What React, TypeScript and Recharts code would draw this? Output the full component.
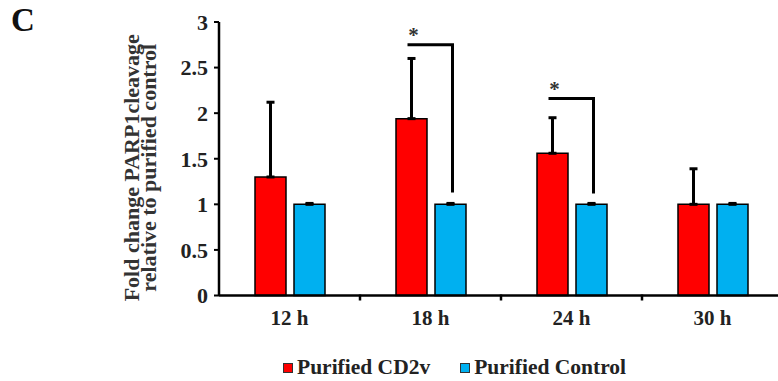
import React from "react";
import { BarChart, Bar, XAxis, YAxis, ErrorBar, Legend, Rectangle } from "recharts";

const timepoints = ["12 h", "18 h", "24 h", "30 h"];
const cd2v = [1.3, 1.94, 1.56, 1.0];
const cd2vSd = [0.82, 0.66, 0.39, 0.39];
const control = [1, 1, 1, 1];
const controlSd = [0.01, 0.01, 0.01, 0.01];
// significance brackets (* p<0.05): top of bracket and where it ends above the control bar
const sigTop = [null, 2.75, 2.16, null];
const sigEnd = [null, 1.13, 1.12, null];
const yTicks = [0, 0.5, 1, 1.5, 2, 2.5, 3];

const FONT = '"Liberation Serif", "Times New Roman", serif';
const BAR_GAP = 8;
const TICK_MARGIN = 10;

const data = timepoints.map((t, i) => ({
  time: t,
  cd2v: cd2v[i],
  cd2vErr: [0, cd2vSd[i]],
  control: control[i],
  controlErr: [0, controlSd[i]],
  sigTop: sigTop[i],
  sigEnd: sigEnd[i],
}));

// control bar + the bracket that links it to the CD2v bar of the same group
const ControlShape = (props: any) => {
  const { x, y, width, height, payload, fill } = props;
  const base = y + height;
  const perUnit = height / payload.control;
  const redMid = x - BAR_GAP - width / 2;
  const blueMid = x + width / 2 + 2;
  const topY = base - (payload.sigTop ?? 0) * perUnit;
  const endY = base - (payload.sigEnd ?? 0) * perUnit;
  return (
    <g>
      <Rectangle x={x} y={y} width={width} height={height} fill={fill} stroke="#000" strokeWidth={1.5} />
      {payload.sigTop != null && (
        <g>
          <polyline
            points={`${redMid - 4},${topY} ${blueMid},${topY} ${blueMid},${endY}`}
            fill="none"
            stroke="#000"
            strokeWidth={3}
          />
          <text
            x={redMid + 2}
            y={topY - 3}
            textAnchor="middle"
            fontFamily={FONT}
            fontWeight="bold"
            fontSize={21}
            fill="#333"
          >
            *
          </text>
        </g>
      )}
    </g>
  );
};

const TimeTick = (props: any) => {
  const { x, y, payload, index } = props;
  const half = payload.offset || 70.5;
  return (
    <g>
      {index > 0 && (
        <line
          x1={x - half}
          x2={x - half}
          y1={y - TICK_MARGIN - 6}
          y2={y - TICK_MARGIN}
          stroke="#000"
          strokeWidth={2.5}
        />
      )}
      <text
        x={x}
        y={y}
        dy="0.71em"
        textAnchor="middle"
        fontFamily={FONT}
        fontWeight="bold"
        fontSize={21}
        fill="#222"
      >
        {payload.value}
      </text>
    </g>
  );
};

const YLabel = (props: any) => {
  const vb = props.viewBox || { x: 0, y: 22, width: 219, height: 273 };
  const cy = vb.y + vb.height / 2 + 9;
  const lines = [
    { x: 139, text: "Fold change PARP1cleavage" },
    { x: 156, text: "relative to purified control" },
  ];
  return (
    <g>
      {lines.map((l) => (
        <text
          key={l.text}
          x={l.x}
          y={cy}
          transform={`rotate(-90, ${l.x}, ${cy})`}
          textAnchor="middle"
          fontFamily={FONT}
          fontWeight="bold"
          fontSize={22}
          fill="#333"
        >
          {l.text}
        </text>
      ))}
    </g>
  );
};

const LegendContent = (props: any) => (
  <div
    style={{
      display: "flex",
      alignItems: "center",
      fontFamily: FONT,
      fontWeight: "bold",
      fontSize: 21.5,
      color: "#222",
      whiteSpace: "nowrap",
    }}
  >
    {(props.payload || []).map((p: any, i: number) => (
      <span key={i} style={{ display: "flex", alignItems: "center", marginRight: 30 }}>
        <span
          style={{
            display: "inline-block",
            width: 8,
            height: 8,
            background: p.color,
            border: "1px solid #333",
            marginRight: 4,
          }}
        />
        {p.value}
      </span>
    ))}
  </div>
);

const App = () => {
  return (
    <div
      style={{
        position: "absolute",
        left: 0,
        top: 0,
        width: 778,
        height: 381,
        overflow: "hidden",
        background: "#fff",
      }}
    >
      <div
        style={{
          position: "absolute",
          left: 11,
          top: 2,
          fontFamily: FONT,
          fontWeight: "bold",
          fontSize: 33,
          color: "#111",
        }}
      >
        C
      </div>
      <BarChart
        width={800}
        height={381}
        data={data}
        margin={{ top: 22, right: 17, bottom: 40.5, left: 0 }}
        barGap={BAR_GAP}
        barSize={31}
      >
        <YAxis
          width={219}
          domain={[0, 3]}
          ticks={yTicks}
          interval={0}
          axisLine={{ stroke: "#000", strokeWidth: 2.5 }}
          tickLine={{ stroke: "#000", strokeWidth: 2 }}
          tickSize={5}
          tickMargin={6}
          tick={{ fontFamily: FONT, fontWeight: "bold", fontSize: 22, fill: "#222" }}
          label={<YLabel />}
        />
        <XAxis
          dataKey="time"
          height={45}
          axisLine={{ stroke: "#000", strokeWidth: 2.5 }}
          tickLine={false}
          tickSize={5}
          tickMargin={TICK_MARGIN}
          interval={0}
          tick={<TimeTick />}
        />
        <Legend
          layout="horizontal"
          verticalAlign="middle"
          align="center"
          wrapperStyle={{ left: 283, top: 355, width: "auto" }}
          content={<LegendContent />}
        />
        <Bar
          dataKey="cd2v"
          name="Purified CD2v"
          fill="#ff0000"
          stroke="#000"
          strokeWidth={1.5}
          isAnimationActive={false}
        >
          <ErrorBar dataKey="cd2vErr" direction="y" width={4} stroke="#000" strokeWidth={3} />
        </Bar>
        <Bar
          dataKey="control"
          name="Purified Control"
          fill="#00b0f0"
          stroke="#000"
          strokeWidth={1.5}
          shape={<ControlShape />}
          isAnimationActive={false}
        >
          <ErrorBar dataKey="controlErr" direction="y" width={4} stroke="#000" strokeWidth={3} />
        </Bar>
      </BarChart>
    </div>
  );
};

export default App;
